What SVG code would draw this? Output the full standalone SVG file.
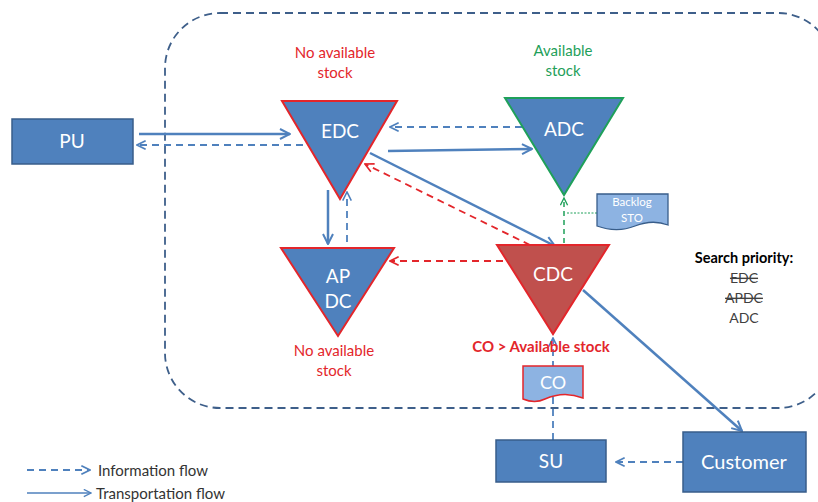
<svg xmlns="http://www.w3.org/2000/svg" width="818" height="502" viewBox="0 0 818 502">
<defs>
<style>
text{font-family:Lato,"Open Sans","Liberation Sans",sans-serif;text-anchor:middle}
.box{fill:#4F81BD;stroke:#385D8A;stroke-width:1.5}
.tri{fill:#4F81BD;stroke:#E3262B;stroke-width:2}
.wt{fill:#fff;font-size:19px}
.red{fill:#E3262B;font-size:15px}
.grn{fill:#1FA05A;font-size:15px}
.sol{stroke:#4F81BD;stroke-width:2.5;fill:none}
.dsh{stroke:#4F81BD;stroke-width:1.8;fill:none;stroke-dasharray:7,5}
.rdsh{stroke:#E3262B;stroke-width:1.8;fill:none;stroke-dasharray:7,5}
.gdsh{stroke:#1FA05A;stroke-width:1.5;fill:none;stroke-dasharray:5,4}
</style>
<marker id="ab" viewBox="0 0 10 10" refX="9" refY="5" markerWidth="5" markerHeight="5" orient="auto" markerUnits="strokeWidth"><path d="M1,1 L9,5 L1,9" fill="none" stroke="#4F81BD" stroke-width="1.6"/></marker>
<marker id="abd" viewBox="0 0 10 10" refX="9" refY="5" markerWidth="6" markerHeight="6" orient="auto" markerUnits="strokeWidth"><path d="M1,1 L9,5 L1,9" fill="none" stroke="#4F81BD" stroke-width="1.5"/></marker>
<marker id="ar" viewBox="0 0 10 10" refX="9" refY="5" markerWidth="6" markerHeight="6" orient="auto" markerUnits="strokeWidth"><path d="M1,1 L9,5 L1,9" fill="none" stroke="#E3262B" stroke-width="1.5"/></marker>
<marker id="ag" viewBox="0 0 10 10" refX="9" refY="5" markerWidth="6" markerHeight="6" orient="auto" markerUnits="strokeWidth"><path d="M1,1 L9,5 L1,9" fill="none" stroke="#1FA05A" stroke-width="1.5"/></marker>
</defs>
<rect x="0" y="0" width="818" height="502" fill="#fff"/>
<rect id="boundary" x="165" y="13" width="668" height="395" rx="55" fill="none" stroke="#3E5F8A" stroke-width="1.8" stroke-dasharray="8,5"/>

<g id="connectors">
<line class="sol" x1="139" y1="134" x2="290" y2="134" marker-end="url(#ab)"/>
<line class="dsh" x1="303" y1="145" x2="137" y2="145" marker-end="url(#abd)"/>
<line class="dsh" x1="522" y1="127" x2="390" y2="127" marker-end="url(#abd)"/>
<line class="sol" x1="388" y1="151" x2="532" y2="149" marker-end="url(#ab)"/>
<line class="sol" x1="370" y1="153" x2="555" y2="246" marker-end="url(#ab)"/>
<line class="rdsh" x1="530" y1="245" x2="365" y2="164" marker-end="url(#ar)"/>
<line class="sol" x1="328" y1="190" x2="328" y2="244" marker-end="url(#ab)"/>
<line class="dsh" x1="347" y1="242" x2="347" y2="192" marker-end="url(#abd)"/>
<line class="rdsh" x1="503" y1="261" x2="390" y2="261" marker-end="url(#ar)"/>
<line class="gdsh" x1="564" y1="243" x2="564" y2="198" marker-end="url(#ag)"/>
<line x1="597" y1="213" x2="566" y2="213" stroke="#1FA05A" stroke-width="1" stroke-dasharray="2,1.5"/>
<line class="sol" x1="583" y1="290" x2="742" y2="431" marker-end="url(#ab)"/>
<line class="dsh" x1="553" y1="440" x2="553" y2="338" marker-end="url(#abd)"/>
<line class="dsh" x1="683" y1="462" x2="616" y2="462" marker-end="url(#abd)"/>
</g>

<g id="PU"><rect class="box" x="12" y="119" width="121" height="45"/><text class="wt" x="72" y="148">PU</text></g>

<g id="EDC"><polygon class="tri" points="282,101 397,101 340,199"/><text class="wt" x="340" y="138">EDC</text>
<text class="red" x="335" y="58">No available</text><text class="red" x="335" y="78">stock</text></g>

<g id="ADC"><polygon class="tri" style="stroke:#1FA05A" points="505,98 623,98 564,195"/><text class="wt" x="564" y="136">ADC</text>
<text class="grn" x="563" y="56">Available</text><text class="grn" x="563" y="76">stock</text></g>

<g id="APDC"><polygon class="tri" points="281,248 394,248 338,336"/><text class="wt" x="338" y="283">AP</text><text class="wt" x="338" y="308">DC</text>
<text class="red" x="334" y="356">No available</text><text class="red" x="334" y="376">stock</text></g>

<g id="CDC"><polygon class="tri" style="fill:#C0504D" points="497,245 609,245 553,334"/><text class="wt" x="553" y="281">CDC</text>
<text class="red" x="541" y="352" style="font-weight:bold">CO &gt; Available stock</text></g>

<g id="CO"><path d="M523,366 H583 V398 C568,392 556,394 545,399 C537,403 530,402 523,399 Z" fill="#8DB3E2" stroke="#E3262B" stroke-width="1.5"/><text class="wt" x="553" y="389" style="font-size:18px">CO</text></g>

<g id="BacklogSTO"><path d="M597,194 H668 V225 C655,220 645,222 635,226 C620,232 608,230 597,226 Z" fill="#8DB3E2" stroke="#385D8A" stroke-width="1.3"/><text x="632" y="206" style="fill:#fff;font-size:11.5px">Backlog</text><text x="632" y="222" style="fill:#fff;font-size:11.5px">STO</text></g>

<g id="search">
<text x="744" y="263" style="font-size:14.5px;font-weight:bold;fill:#000">Search priority:</text>
<text x="744" y="283" style="font-size:14px;fill:#404040;text-decoration:line-through">EDC</text>
<text x="744" y="303" style="font-size:14px;fill:#404040;text-decoration:line-through">APDC</text>
<text x="744" y="323" style="font-size:14px;fill:#404040">ADC</text>
</g>

<g id="SU"><rect class="box" x="496" y="440" width="110" height="42"/><text class="wt" x="551" y="468">SU</text></g>
<g id="Customer"><rect class="box" x="683" y="432" width="123" height="60"/><text class="wt" x="744" y="469" style="font-size:20px">Customer</text></g>

<g id="legend">
<line x1="27" y1="470" x2="90" y2="470" stroke="#4F81BD" stroke-width="1.8" stroke-dasharray="7,5" marker-end="url(#abd)"/>
<text x="98" y="476" style="text-anchor:start;font-size:15px;fill:#333">Information flow</text>
<line x1="27" y1="493" x2="91" y2="493" stroke="#4F81BD" stroke-width="1.5" marker-end="url(#abd)"/>
<text x="96" y="499" style="text-anchor:start;font-size:15px;fill:#333">Transportation flow</text>
</g>
</svg>
